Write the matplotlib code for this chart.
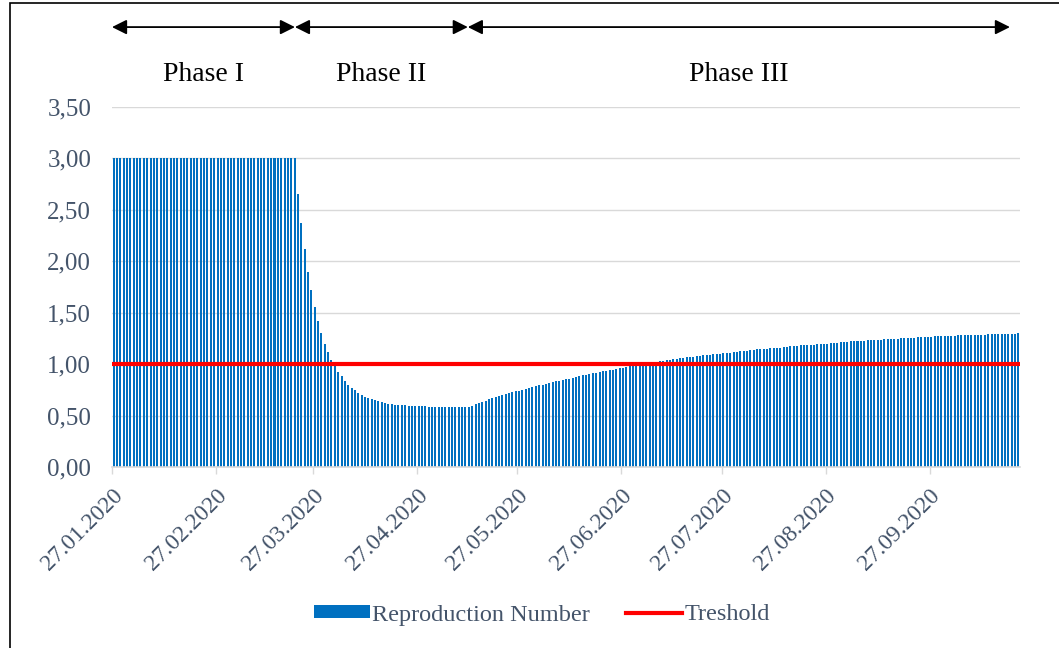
import matplotlib
matplotlib.use("Agg")
import matplotlib.pyplot as plt
import matplotlib.transforms as mtransforms
import numpy as np
import pandas as pd
from matplotlib.patches import Rectangle
from matplotlib.ticker import FuncFormatter

plt.rcParams["font.family"] = ["Liberation Serif", "DejaVu Serif"]

# daily reproduction number, 27.01.2020 .. 23.10.2020
r_phase1 = [3.00] * 55
r_decline = [2.65, 2.37, 2.12, 1.90, 1.72, 1.56, 1.42, 1.30, 1.20, 1.12,
             1.04, 0.98, 0.925, 0.88, 0.84, 0.80, 0.77, 0.745, 0.72, 0.70,
             0.685, 0.67, 0.66, 0.65, 0.64, 0.63, 0.62, 0.615, 0.61, 0.607,
             0.603, 0.600, 0.598, 0.596, 0.594, 0.592, 0.591, 0.590, 0.589, 0.588,
             0.587, 0.586, 0.585, 0.585, 0.584, 0.584, 0.583, 0.583, 0.583, 0.582,
             0.582, 0.582, 0.590]
r_rise = [0.610, 0.620, 0.634, 0.644, 0.657, 0.667, 0.677, 0.686, 0.696, 0.706,
          0.715, 0.725, 0.735, 0.740, 0.750, 0.760, 0.770, 0.777, 0.786, 0.796,
          0.800, 0.810, 0.820, 0.825, 0.835, 0.840, 0.850, 0.854, 0.860, 0.870,
          0.877, 0.883, 0.890, 0.896, 0.900, 0.910, 0.915, 0.920, 0.930, 0.935,
          0.940, 0.945, 0.950, 0.960, 0.965, 0.970, 0.978, 0.985, 0.990, 0.995,
          1.000, 1.005, 1.012, 1.018, 1.023, 1.028, 1.033, 1.038, 1.043, 1.048,
          1.053, 1.057, 1.061, 1.065, 1.069, 1.073, 1.077, 1.081, 1.085, 1.089,
          1.093, 1.096, 1.099, 1.102, 1.105, 1.108, 1.111, 1.115, 1.119, 1.123,
          1.127, 1.131, 1.135, 1.139, 1.143, 1.147, 1.150, 1.152, 1.154, 1.156,
          1.158, 1.161, 1.165, 1.169, 1.173, 1.177, 1.180, 1.182, 1.184, 1.186,
          1.188, 1.190, 1.192, 1.194, 1.196, 1.198, 1.202, 1.206, 1.209, 1.212,
          1.215, 1.218, 1.221, 1.223, 1.225, 1.227, 1.229, 1.231, 1.233, 1.235,
          1.237, 1.239, 1.241, 1.243, 1.245, 1.247, 1.249, 1.251, 1.253, 1.255,
          1.257, 1.259, 1.261, 1.263, 1.264, 1.266, 1.267, 1.269, 1.270, 1.272,
          1.273, 1.275, 1.276, 1.278, 1.279, 1.280, 1.282, 1.283, 1.284, 1.285,
          1.286, 1.287, 1.288, 1.289, 1.290, 1.291, 1.292, 1.293, 1.294, 1.295,
          1.296, 1.297, 1.298]
r_values = r_phase1 + r_decline + r_rise
threshold = 1.0

dates = pd.date_range("2020-01-27", periods=len(r_values), freq="D")
tick_labels = ["27.01.2020", "27.02.2020", "27.03.2020", "27.04.2020", "27.05.2020",
               "27.06.2020", "27.07.2020", "27.08.2020", "27.09.2020"]
phase_names = ["Phase I", "Phase II", "Phase III"]
phase_edges = [0, 54.6, 106.2, 268.0]  # in days from 27.01.2020

TXT = "#44546A"
GRID = "#D9D9D9"

fig = plt.figure(figsize=(10.59, 6.48), dpi=100)
ax = fig.add_axes([112 / 1059, 1 - 467 / 648, 908 / 1059, 360 / 648])

n = len(r_values)
x = np.arange(n) + 0.5
bars = ax.bar(x, r_values, width=0.6, color="#0070C0", linewidth=0, zorder=2,
              label="Reproduction Number")
line, = ax.plot([0, n], [threshold, threshold], color="#FF0000", lw=3, zorder=3,
                label="Treshold")

ax.set_xlim(0, n)
ax.set_ylim(0, 3.5)
ax.set_yticks(np.arange(0, 3.51, 0.5))
ax.yaxis.set_major_formatter(FuncFormatter(lambda v, p: f"{v:.2f}".replace(".", ",")))
ax.grid(axis="y", color=GRID, lw=1, zorder=0)
ax.set_axisbelow(True)

tick_pos = [i for i, d in enumerate(dates) if d.day == 27]
ax.set_xticks(tick_pos)
ax.set_xticklabels(tick_labels, rotation=45, ha="right", rotation_mode="anchor",
                   fontsize=17, color=TXT)
shift = mtransforms.ScaledTranslation(-4 / 100, 0, fig.dpi_scale_trans)
for lbl in ax.get_xticklabels():
    lbl.set_transform(lbl.get_transform() + shift)
ax.tick_params(axis="x", length=5, color=GRID, width=1, pad=8)
ax.tick_params(axis="y", length=0, pad=15, labelsize=18, labelcolor=TXT)
for s in ["top", "right", "left"]:
    ax.spines[s].set_visible(False)
ax.spines["bottom"].set_color(GRID)
ax.spines["bottom"].set_linewidth(1.2)

# phase arrows and labels
for name, a, b in zip(phase_names, phase_edges[:-1], phase_edges[1:]):
    ax.annotate("", xy=(b, 1.222), xytext=(a, 1.222),
                xycoords=("data", "axes fraction"), textcoords=("data", "axes fraction"),
                arrowprops=dict(arrowstyle="<|-|>", color="black", lw=1.3,
                                mutation_scale=22, shrinkA=0, shrinkB=0),
                annotation_clip=False)
    ax.text((a + b) / 2, 1.09, name, transform=ax.get_xaxis_transform(),
            ha="center", va="center", fontsize=20, color="black")

leg = ax.legend([bars, line], ["Reproduction Number", "Treshold"],
                loc="center", bbox_to_anchor=(542 / 1059, 1 - 615 / 648),
                bbox_transform=fig.transFigure, ncol=2, frameon=False, fontsize=17.5,
                handlelength=2.3, handleheight=0.45, handletextpad=0.1, columnspacing=1.5)
for t in leg.get_texts():
    t.set_color(TXT)

# outer frame
fig.patches.append(Rectangle((10 / 1059, -0.02), 1.05, 1.02 - 2.5 / 648, transform=fig.transFigure,
                             fill=False, edgecolor="black", lw=1.2, zorder=10))

fig.savefig("out.png", dpi=100)
